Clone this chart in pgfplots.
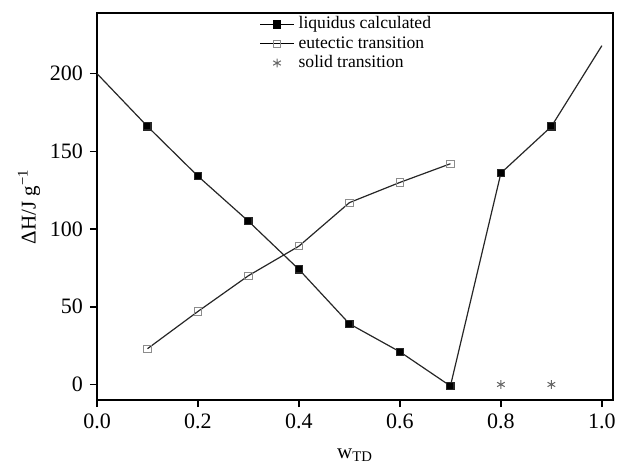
\documentclass[border=0pt]{standalone}
\usepackage{pgfplots}
\pgfplotsset{compat=1.18}
\usepackage{fontspec}
\setmainfont{Liberation Serif}

\begin{document}
\begin{tikzpicture}
\begin{axis}[
  width=258pt, height=193.5pt, scale only axis,
  xmin=0, xmax=1.022, ymin=-10, ymax=239,
  xtick={0,0.2,...,1.0}, ytick={0,50,100,150,200},
  tick align=outside, xtick pos=left, ytick pos=left,
  major tick length=3.5pt,
  axis line style={line width=0.8pt}, tick style={line width=0.8pt,black},
  x tick label style={/pgf/number format/.cd,fixed,fixed zerofill,precision=1},
  /pgf/number format/assume math mode=true,
  tick label style={font=\fontsize{11}{13}\selectfont},
  xlabel={w\textsubscript{TD}}, ylabel={ΔH/J g\textsuperscript{−1}},
  label style={font=\fontsize{10.5}{12}\selectfont},
  x label style={yshift=-3pt},
  y label style={yshift=-2pt},
  legend style={draw=none, fill=none, at={(0.485,1.012)}, anchor=north,
    font=\fontsize{8.8}{9}\selectfont, row sep=-1.8pt},
  legend cell align=left,
  legend image code/.code={\draw[#1, black, mark indices={2}] plot coordinates {(0pt,0pt) (8.5pt,0pt) (17pt,0pt)};},
]
\addplot[black!85, line width=0.6pt, mark=square*, mark size=1.8pt,
  mark options={fill=black}, mark indices={2,3,4,5,6,7,8,9,10}]
  coordinates {(0,200) (0.1,166) (0.2,134) (0.3,105) (0.4,74) (0.5,39) (0.6,21) (0.7,-1) (0.8,136) (0.9,166) (1.0,218)};
\addplot[black!85, line width=0.6pt, mark=square, mark size=1.8pt,
  mark options={draw=black!45, fill=white, line width=0.5pt}]
  coordinates {(0.1,23) (0.2,47) (0.3,70) (0.4,89) (0.5,117) (0.6,130) (0.7,142)};
\addplot[only marks, mark=asterisk, mark size=2.2pt, mark options={black!60, line width=0.5pt}]
  coordinates {(0.8,0) (0.9,0)};
\legend{liquidus calculated, eutectic transition, solid transition}
\end{axis}
\pgfresetboundingbox
\path[use as bounding box] (current axis.south west) ++(-48.5pt,-33.5pt) rectangle ([shift={(2pt,6.5pt)}]current axis.north east);
\end{tikzpicture}
\end{document}
